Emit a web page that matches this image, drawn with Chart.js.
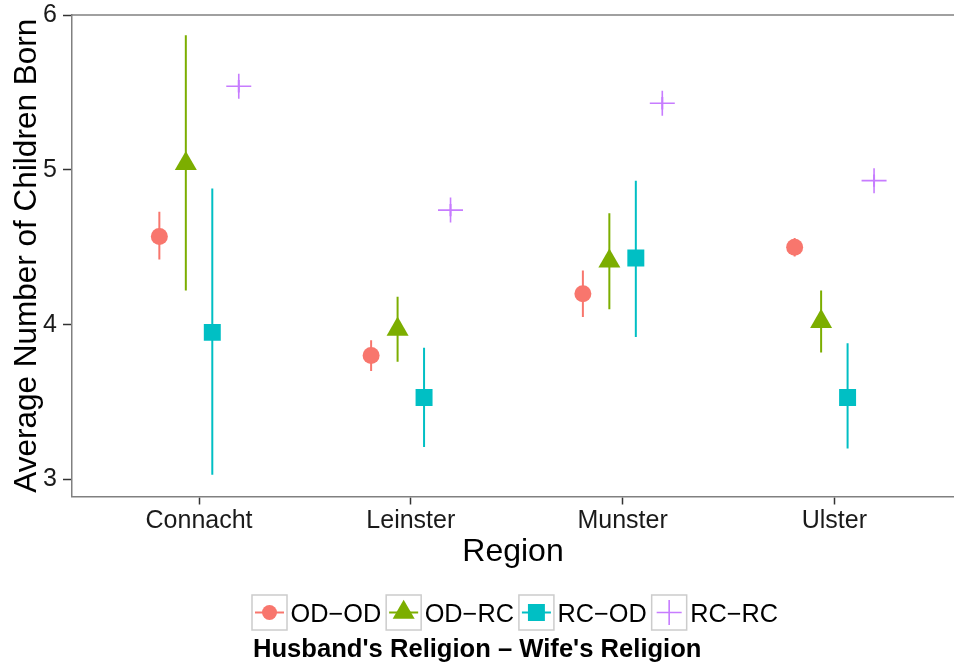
<!DOCTYPE html>
<html>
<head>
<meta charset="utf-8">
<script src="https://cdn.jsdelivr.net/npm/chart.js@4.4.1/dist/chart.umd.min.js"></script>
<style>
  html, body { margin: 0; padding: 0; background: #fff; overflow: hidden; }
</style>
</head>
<body>
<canvas id="chart" width="954" height="667"></canvas>
<script>
// Data
const regions = ['Connacht', 'Leinster', 'Munster', 'Ulster'];
const groups = ['OD\u2212OD', 'OD\u2212RC', 'RC\u2212OD', 'RC\u2212RC'];
const yTicks = [3, 4, 5, 6];

const odOdMean = [4.57, 3.80, 4.20, 4.50];
const odOdLow  = [4.42, 3.70, 4.05, 4.44];
const odOdHigh = [4.73, 3.90, 4.35, 4.56];

const odRcMean = [5.04, 3.97, 4.41, 4.02];
const odRcLow  = [4.22, 3.76, 4.10, 3.82];
const odRcHigh = [5.87, 4.18, 4.72, 4.22];

const rcOdMean = [3.95, 3.53, 4.43, 3.53];
const rcOdLow  = [3.03, 3.21, 3.92, 3.20];
const rcOdHigh = [4.88, 3.85, 4.93, 3.88];

const rcRcMean = [5.54, 4.74, 5.43, 4.93];
const rcRcLow  = [5.50, 4.70, 5.39, 4.89];
const rcRcHigh = [5.58, 4.78, 5.47, 4.97];

const means = [odOdMean, odRcMean, rcOdMean, rcRcMean];
const lows = [odOdLow, odRcLow, rcOdLow, rcRcLow];
const highs = [odOdHigh, odRcHigh, rcOdHigh, rcRcHigh];

// look of each group
const colors = ['#F8766D', '#7CAE00', '#00BFC4', '#C77CFF'];
const shapes = ['circle', 'triangle', 'rect', 'cross'];
const radii = [8.5, 12.7, 12, 12.5];
const dodge = [-0.1875, -0.0625, 0.0625, 0.1875];

const family = '"Liberation Sans", Arial, Helvetica, sans-serif';

const datasets = [];
groups.forEach(function(g, i) {
    const bars = [];
    regions.forEach(function(r, j) {
        const x = j + 1 + dodge[i];
        bars.push({x: x, y: lows[i][j]}, {x: x, y: highs[i][j]}, {x: x, y: null});
    });
    datasets.push({
        label: g + ' range',
        data: bars,
        showLine: true,
        spanGaps: false,
        borderColor: colors[i],
        borderWidth: 2,
        pointRadius: 0,
        order: 2
    });
    datasets.push({
        label: g,
        data: regions.map((r, j) => ({x: j + 1 + dodge[i], y: means[i][j]})),
        pointStyle: shapes[i],
        pointRadius: radii[i],
        backgroundColor: colors[i],
        borderColor: colors[i],
        borderWidth: shapes[i] === 'cross' ? 1.6 : 0,
        order: 1
    });
});

// top frame line and the ggplot-style legend under the plot
const extras = {
    id: 'extras',
    afterDraw(chart) {
        const ctx = chart.ctx;
        const a = chart.chartArea;
        ctx.save();
        ctx.strokeStyle = '#808080';
        ctx.lineWidth = 1.5;
        ctx.beginPath();
        ctx.moveTo(a.left, a.top);
        ctx.lineTo(a.right, a.top);
        ctx.stroke();

        const cy = 612.5;
        let x = 252;
        ctx.font = '25.3px ' + family;
        ctx.textBaseline = 'alphabetic';
        groups.forEach(function(g, i) {
            ctx.strokeStyle = '#cccccc';
            ctx.lineWidth = 1.5;
            ctx.strokeRect(x, cy - 17.5, 35, 35);
            if (shapes[i] !== 'cross') {
                ctx.strokeStyle = colors[i];
                ctx.lineWidth = 2;
                ctx.beginPath();
                ctx.moveTo(x + 3, cy);
                ctx.lineTo(x + 32, cy);
                ctx.stroke();
            }
            ctx.fillStyle = colors[i];
            ctx.strokeStyle = colors[i];
            ctx.lineWidth = shapes[i] === 'cross' ? 1.6 : 0;
            Chart.helpers.drawPoint(ctx, {
                pointStyle: shapes[i],
                radius: shapes[i] === 'circle' ? 7.5 : radii[i],
                borderWidth: shapes[i] === 'cross' ? 1.6 : 0,
                rotation: 0
            }, x + 17.5, cy);
            ctx.fillStyle = '#000';
            ctx.fillText(g, x + 38.5, 621.5);
            x += 38.5 + ctx.measureText(g).width + 5;
        });

        ctx.font = 'bold 25.6px ' + family;
        ctx.fillStyle = '#000';
        ctx.fillText('Husband\'s Religion \u2013 Wife\'s Religion', 253, 657);
        ctx.restore();
    }
};

const ctx = document.getElementById('chart').getContext('2d');
new Chart(ctx, {
    type: 'scatter',
    data: {datasets: datasets},
    options: {
        responsive: false,
        animation: false,
        layout: {autoPadding: false, padding: {top: 15, left: 0, right: 0, bottom: 0}},
        plugins: {
            legend: {display: false},
            tooltip: {enabled: false}
        },
        scales: {
            x: {
                type: 'linear',
                min: 0.4,
                max: 4.565,
                afterBuildTicks: s => { s.ticks = regions.map((r, i) => ({value: i + 1})); },
                afterFit: s => { s.height = 170.5; s.paddingLeft = 0; s.paddingRight = 0; },
                ticks: {
                    callback: v => regions[v - 1],
                    font: {family: family, size: 25},
                    color: '#1a1a1a',
                    padding: 2,
                    autoSkip: false,
                    maxRotation: 0
                },
                grid: {drawOnChartArea: false, tickLength: 8, tickColor: '#333', tickWidth: 1.5},
                border: {display: true, color: '#808080', width: 1.5},
                title: {
                    display: true,
                    text: 'Region',
                    font: {family: family, size: 32},
                    color: '#000',
                    padding: {top: 0, bottom: 96}
                }
            },
            y: {
                min: 2.89,
                max: 6,
                afterBuildTicks: s => { s.ticks = yTicks.map(v => ({value: v})); },
                afterFit: s => { s.width = 72; s.paddingTop = 0; s.paddingBottom = 0; },
                ticks: {
                    font: {family: family, size: 25},
                    color: '#1a1a1a',
                    padding: 6
                },
                grid: {drawOnChartArea: false, tickLength: 9, tickColor: '#333', tickWidth: 1.5},
                border: {display: true, color: '#808080', width: 1.5},
                title: {
                    display: true,
                    text: 'Average Number of Children Born',
                    font: {family: family, size: 31.5},
                    color: '#000',
                    padding: {top: 8, bottom: 0}
                }
            }
        }
    },
    plugins: [extras]
});
</script>
</body>
</html>
